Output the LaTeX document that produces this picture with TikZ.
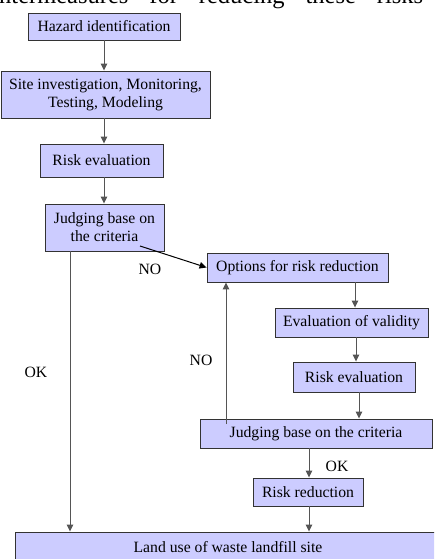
\documentclass[tikz,border=0pt]{standalone}
\usepackage{fontspec}
\setmainfont{Liberation Serif}
\usetikzlibrary{arrows.meta}
\definecolor{boxfill}{HTML}{CCCCFF}
\definecolor{boxline}{HTML}{333333}
\definecolor{linegray}{HTML}{555555}
\tikzset{
  flowbox/.style={draw=boxline, fill=boxfill, line width=0.9pt, inner sep=0pt, align=center,
    font=\fontsize{15.7}{18}\selectfont},
  conn/.style={draw=linegray, line width=1pt, -{Triangle[length=7pt,width=6.5pt]}, shorten >=0pt},
  lbl/.style={font=\fontsize{15.7}{18}\selectfont, inner sep=0pt}
}
\begin{document}
\begin{tikzpicture}[x=1pt,y=-1pt]
\useasboundingbox (0,0) rectangle (434,559);
\clip (0,0) rectangle (434,559);
% cut-off heading
\node[anchor=base west, inner sep=0pt, font=\fontsize{24.5}{28}\selectfont] (head) at (-1,4)
  {\makebox[424pt][s]{ntermeasures for reducing these risks}};
% boxes
\node[flowbox, minimum width=152pt, minimum height=27pt] (haz) at (104,26.5) {Hazard identification};
\node[flowbox, minimum width=209pt, minimum height=47pt] (site) at (105.5,94.5) {Site investigation, Monitoring,\\Testing, Modeling};
\node[flowbox, minimum width=123pt, minimum height=33pt] (re1) at (101.5,160.5) {Risk evaluation};
\node[flowbox, minimum width=119pt, minimum height=47pt] (jb1) at (104.5,227.5) {Judging base on\\the criteria};
\node[flowbox, minimum width=181pt, minimum height=29pt] (opt) at (297.5,267.5) {Options for risk reduction};
\node[flowbox, minimum width=153pt, minimum height=29pt] (val) at (351.5,322.5) {Evaluation of validity};
\node[flowbox, minimum width=122pt, minimum height=30pt] (re2) at (354,377) {Risk evaluation};
\node[flowbox, minimum width=232pt, minimum height=29pt] (jb2) at (316,433.5) {Judging base on the criteria};
\node[flowbox, minimum width=110pt, minimum height=28pt] (rr) at (308,492) {Risk reduction};
\node[flowbox, minimum width=426pt, minimum height=30pt] (land) at (228,547) {Land use of waste landfill site};
% helper x coordinates
\coordinate (xa) at (104,0);
\coordinate (xb) at (70,0);
\coordinate (xc) at (355,0);
\coordinate (xd) at (356,0);
\coordinate (xe) at (359,0);
\coordinate (xf) at (226,0);
\coordinate (xg) at (309,0);
\coordinate (dstart) at (140,246);
\coordinate (nostart) at (226,424);
% connectors
\draw[conn] (haz.south -| xa) -- (site.north -| xa);
\draw[conn] (site.south -| xa) -- (re1.north -| xa);
\draw[conn] (re1.south -| xa) -- (jb1.north -| xa);
\draw[conn] (jb1.south -| xb) -- (land.north -| xb);
\draw[conn, draw=black] (dstart) -- (opt.west);
\draw[conn] (opt.south -| xc) -- (val.north -| xc);
\draw[conn] (val.south -| xd) -- (re2.north -| xd);
\draw[conn] (re2.south -| xe) -- (jb2.north -| xe);
\draw[conn] (nostart) -- (opt.south -| xf);
\draw[conn] (jb2.south -| xg) -- (rr.north -| xg);
\draw[conn] (rr.south -| xg) -- (land.north -| xg);
% labels
\node[lbl] (no1) at (150,269) {NO};
\node[lbl] (ok1) at (36,372) {OK};
\node[lbl] (no2) at (201,360) {NO};
\node[lbl] (ok2) at (337,466) {OK};
\end{tikzpicture}
\end{document}
